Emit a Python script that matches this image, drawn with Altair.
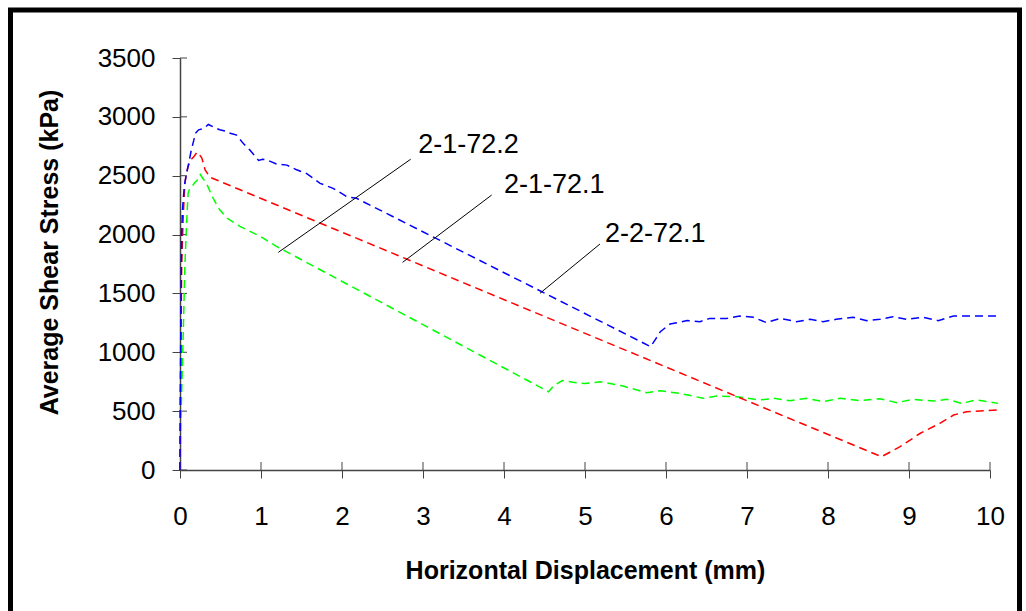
import altair as alt
import pandas as pd

# Shear test curves: horizontal displacement (mm) vs average shear stress (kPa)
g_x = [0, 0.01, 0.02, 0.03, 0.04, 0.05, 0.06, 0.07, 0.08, 0.09, 0.10, 0.12, 0.14,
       0.16, 0.18, 0.21, 0.25, 0.29, 0.33, 0.40, 0.49, 0.58, 0.74, 0.99, 1.19,
       4.55, 4.62, 4.72, 4.85, 5.0, 5.19, 5.47, 5.76, 5.93, 6.17, 6.46, 6.63,
       6.87, 7.16, 7.33, 7.53, 7.74, 7.94, 8.15, 8.4, 8.64, 8.85, 9.05, 9.3,
       9.47, 9.65, 9.83, 10.1]
g_y = [0, 400, 650, 900, 1160, 1450, 1730, 1900, 2070, 2220, 2350, 2390, 2400,
       2420, 2440, 2460, 2510, 2470, 2430, 2320, 2210, 2140, 2070, 1985, 1900,
       665, 720, 760, 745, 735, 750, 713, 657, 674, 651, 609, 629,
       623, 595, 609, 589, 609, 580, 609, 589, 606, 572, 600, 586,
       600, 566, 595, 566]

r_x = [0, 0.003, 0.008, 0.013, 0.02, 0.03, 0.04, 0.05, 0.06, 0.08, 0.10, 0.12,
       0.14, 0.17, 0.19, 0.21, 0.24, 0.27, 0.31, 0.37, 8.66, 8.89, 9.14, 9.38,
       9.55, 9.71, 10.1]
r_y = [0, 400, 800, 1160, 1720, 1950, 2150, 2300, 2435, 2520, 2580, 2610,
       2640, 2660, 2680, 2700, 2680, 2650, 2550, 2487, 113, 198, 312, 396,
       467, 495, 510]

b_x = [0, 0.002, 0.005, 0.01, 0.015, 0.02, 0.03, 0.04, 0.05, 0.06, 0.08, 0.10,
       0.12, 0.14, 0.17, 0.19, 0.23, 0.29, 0.35, 0.41, 0.49, 0.56, 0.62, 0.70,
       0.78, 0.86, 0.97, 1.02, 1.07, 1.19, 1.32, 1.44, 1.56, 1.73, 1.89, 2.06,
       2.18, 5.81, 5.87, 5.93, 6.05, 6.26, 6.42, 6.54, 6.75, 6.91, 7.08, 7.24,
       7.41, 7.61, 7.78, 7.94, 8.1, 8.31, 8.48, 8.64, 8.8, 8.97, 9.18, 9.36,
       9.55, 9.75, 10.1]
b_y = [0, 300, 700, 1200, 1600, 2000, 2200, 2300, 2380, 2440, 2520, 2580,
       2650, 2720, 2800, 2860, 2890, 2900, 2935, 2915, 2890, 2880, 2860, 2845,
       2775, 2720, 2630, 2640, 2635, 2600, 2590, 2550, 2520, 2435, 2393, 2322,
       2308, 1048, 1110, 1175, 1240, 1269, 1260, 1288, 1288, 1308, 1297, 1252,
       1288, 1260, 1280, 1260, 1280, 1297, 1269, 1280, 1302, 1280, 1297, 1269,
       1308, 1308, 1308]

series_names = ["2-1-72.2", "2-1-72.1", "2-2-72.1"]
series_colors = ["#00FF00", "#FF0000", "#0000FF"]

# Leader lines and labels naming each curve
label_text = ["2-1-72.2", "2-1-72.1", "2-2-72.1"]
lead_x1 = [1.214, 2.748, 4.444]
lead_y1 = [1849, 1764, 1501]
lead_x2 = [2.848, 3.848, 5.185]
lead_y2 = [2640, 2336, 1920]
label_x = [2.94, 4.0, 5.247]
label_y = [2693, 2350, 1940]

x_ticks = list(range(0, 11))
y_ticks = list(range(0, 3501, 500))

FONT = "Liberation Sans"
W, H = 810, 412

rows = []
for name, xs, ys in zip(series_names, [g_x, r_x, b_x], [g_y, r_y, b_y]):
    for i, (xv, yv) in enumerate(zip(xs, ys)):
        rows.append({"series": name, "idx": i, "disp": xv, "stress": yv})
curves = pd.DataFrame(rows)

x_scale = alt.Scale(domain=[0, 10], nice=False, zero=False)
y_scale = alt.Scale(domain=[0, 3500], nice=False)

lines = alt.Chart(curves).mark_line(strokeWidth=1.5, strokeDash=[8, 5]).encode(
    x=alt.X("disp:Q", scale=x_scale,
            axis=alt.Axis(title="Horizontal Displacement (mm)", values=x_ticks,
                          format="d", labelPadding=25, labelFlush=False, titleY=108,
                          titleBaseline="alphabetic")),
    y=alt.Y("stress:Q", scale=y_scale,
            axis=alt.Axis(title="Average Shear Stress (kPa)", values=y_ticks,
                          format="d", labelPadding=17, labelFlush=False,
                          titleX=-123, titleY=194, titleBaseline="alphabetic")),
    color=alt.Color("series:N", scale=alt.Scale(domain=series_names, range=series_colors),
                    legend=None),
    order=alt.Order("idx:Q"),
)

ann = pd.DataFrame({"label": label_text, "x1": lead_x1, "y1": lead_y1,
                    "x2": lead_x2, "y2": lead_y2, "tx": label_x, "ty": label_y})

leaders = alt.Chart(ann).mark_rule(color="black", strokeWidth=1).encode(
    x=alt.X("x1:Q", scale=x_scale), y=alt.Y("y1:Q", scale=y_scale),
    x2="x2:Q", y2="y2:Q")

labels = alt.Chart(ann).mark_text(align="left", baseline="alphabetic", font=FONT,
                                  fontSize=27, color="black").encode(
    x=alt.X("tx:Q", scale=x_scale), y=alt.Y("ty:Q", scale=y_scale), text="label:N")

# Inner halves of the tick marks, so ticks cross each axis line
y_inner = alt.Chart(pd.DataFrame({"v": y_ticks})).mark_rule(color="#444", strokeWidth=1).encode(
    y=alt.Y("v:Q", scale=y_scale), x=alt.value(0), x2=alt.value(7))
x_inner = alt.Chart(pd.DataFrame({"v": x_ticks})).mark_rule(color="#444", strokeWidth=1).encode(
    x=alt.X("v:Q", scale=x_scale), y=alt.value(H), y2=alt.value(H - 8))

# Heavy outer frame around the figure
frame = alt.Chart(pd.DataFrame({"k": [0]})).mark_rect(
    filled=False, stroke="black", strokeWidth=5).encode(
    x=alt.value(-169.5), x2=alt.value(839.5), y=alt.value(-48), y2=alt.value(620))

chart = alt.layer(frame, x_inner, y_inner, lines, leaders, labels).properties(
    width=W, height=H,
    autosize=alt.AutoSizeParams(type="none"),
    padding={"left": 180, "top": 58, "right": 36, "bottom": 141},
    background="white",
).configure_view(stroke=None).configure_axis(
    grid=False, labelFont=FONT, labelFontSize=26, labelColor="black",
    titleFont=FONT, titleFontSize=25, titleFontWeight="bold", titleColor="black",
    tickSize=8, tickColor="#444", tickWidth=1, domainColor="#444", domainWidth=1.5,
)

chart.save("out.html", embed_options={"renderer": "svg", "actions": False})
